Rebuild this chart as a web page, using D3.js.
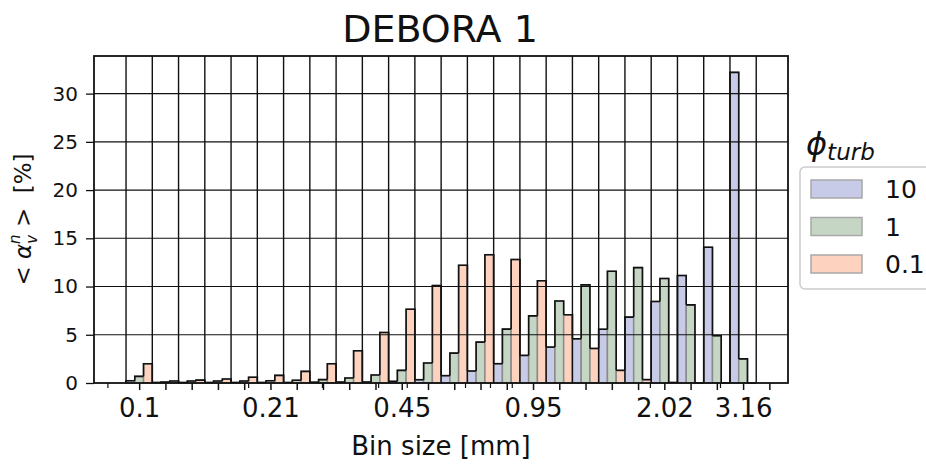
<!DOCTYPE html>
<html>
<head>
<meta charset="utf-8">
<style>
  body { margin: 0; background: #fff; }
  svg { font-family: "DejaVu Sans", sans-serif; }
</style>
</head>
<body>
<script src="https://cdn.jsdelivr.net/npm/d3@7"></script>
<script>
// bins are log spaced, only some of them carry a label
var binLabels = ["0.1", "", "", "", "", "0.21", "", "", "", "", "0.45", "", "", "", "", "0.95", "", "", "", "", "2.02", "", "", "3.16"];
var seriesNames = ["10", "1", "0.1"];
var phi10 = [0.24, 0.05, 0.05, 0.05, 0.05, 0.05, 0.05, 0.08, 0.1, 0.1, 0.17, 0.34, 0.76, 1.24, 2.0, 2.86, 3.72, 4.58, 5.58, 6.83, 8.45, 11.14, 14.07, 32.2];
var phi1 = [0.69, 0.1, 0.2, 0.2, 0.2, 0.24, 0.28, 0.35, 0.52, 0.83, 1.31, 2.07, 3.1, 4.24, 5.59, 6.96, 8.5, 10.17, 11.58, 11.96, 10.83, 8.1, 4.9, 2.5];
var phi01 = [2.0, 0.2, 0.3, 0.41, 0.6, 0.79, 1.2, 2.0, 3.34, 5.24, 7.65, 10.1, 12.2, 13.3, 12.8, 10.6, 7.07, 3.58, 1.31, 0.35, 0.05, 0, 0, 0];
var yTicks = [0, 5, 10, 15, 20, 25, 30];
// additional small ticks seen on the x axis (bin units)
var extraTicks = [-0.71, 4.65, 7.46, 9.6, 10.69, 12.91, 13.86, 14.69, 19.95, 22.62];

var colors = ["#c8cbe7", "#c6d6c5", "#fdd2bf"];
var series = [phi10, phi1, phi01];

var W = 926, H = 465;
var mLeft = 94, mRight = 788, mTop = 56, mBottom = 383;

var svg = d3.select("body").append("svg")
    .attr("width", W)
    .attr("height", H);

var nBins = binLabels.length;
var x = d3.scaleLinear().domain([-1.22, nBins + 1.21]).range([mLeft, mRight]);
var y = d3.scaleLinear().domain([0, 33.9]).range([mBottom, mTop]);

// flatten bars: bin k, series s -> [k + s/3, k + (s+1)/3]
var bars = [];
binLabels.forEach(function (lab, k) {
    series.forEach(function (vals, s) {
        bars.push({ x0: k + s / 3, x1: k + (s + 1) / 3, v: vals[k], s: s });
    });
});

var g = svg.append("g");

g.selectAll("rect.bar")
    .data(bars)
    .join("rect")
    .attr("class", "bar")
    .attr("x", function (d) { return x(d.x0); })
    .attr("width", function (d) { return x(d.x1) - x(d.x0); })
    .attr("y", function (d) { return y(d.v); })
    .attr("height", function (d) { return y(0) - y(d.v); })
    .attr("fill", function (d) { return colors[d.s]; })
    .attr("stroke", "#8a8a8a")
    .attr("stroke-width", 1.5);

// black outline: the part of each bar sticking out above its neighbours
g.selectAll("path.outline")
    .data(bars)
    .join("path")
    .attr("class", "outline")
    .attr("fill", "none")
    .attr("stroke", "#111")
    .attr("stroke-width", 1.6)
    .attr("d", function (d, i) {
        var prev = i > 0 ? bars[i - 1].v : 0;
        var next = i < bars.length - 1 ? bars[i + 1].v : 0;
        var a = Math.min(prev, d.v), b = Math.min(next, d.v);
        return "M" + x(d.x0) + "," + y(a) + "L" + x(d.x0) + "," + y(d.v) +
            "L" + x(d.x1) + "," + y(d.v) + "L" + x(d.x1) + "," + y(b);
    });

// grid on top of the bars
var grid = svg.append("g");
grid.selectAll("line.hg")
    .data(yTicks.slice(1))
    .join("line")
    .attr("class", "hg")
    .attr("x1", mLeft).attr("x2", mRight)
    .attr("y1", function (d) { return y(d); })
    .attr("y2", function (d) { return y(d); })
    .attr("stroke", "#111")
    .attr("stroke-width", 1.1);
grid.selectAll("line.vg")
    .data(d3.range(nBins + 1))
    .join("line")
    .attr("class", "vg")
    .attr("x1", function (d) { return x(d); })
    .attr("x2", function (d) { return x(d); })
    .attr("y1", mTop).attr("y2", mBottom)
    .attr("stroke", "#111")
    .attr("stroke-width", 1.4);

// axes
var xAxis = d3.axisBottom(x)
    .tickValues(d3.range(nBins + 1).map(function (k) { return k + 0.5; }))
    .tickFormat(function (d) { return binLabels[Math.floor(d)] || ""; })
    .tickSize(7)
    .tickPadding(9);
var gx = svg.append("g")
    .attr("transform", "translate(0," + mBottom + ")")
    .call(xAxis);
gx.select(".domain").remove();
gx.selectAll("line").attr("stroke", "#111").attr("stroke-width", 1.5);
gx.selectAll("text").attr("font-size", 26).attr("fill", "#111")
    .attr("font-family", "DejaVu Sans");

var gx2 = svg.append("g")
    .attr("transform", "translate(0," + mBottom + ")")
    .call(d3.axisBottom(x).tickValues(extraTicks).tickSize(5).tickFormat(""));
gx2.select(".domain").remove();
gx2.selectAll("line").attr("stroke", "#111").attr("stroke-width", 1.2);

var yAxis = d3.axisLeft(y).tickValues(yTicks).tickSize(8).tickPadding(8);
var gy = svg.append("g")
    .attr("transform", "translate(" + mLeft + ",0)")
    .call(yAxis);
gy.select(".domain").remove();
gy.selectAll("line").attr("stroke", "#111").attr("stroke-width", 1.3);
gy.selectAll("text").attr("font-size", 20).attr("fill", "#111")
    .attr("font-family", "DejaVu Sans");

// frame
svg.append("rect")
    .attr("x", mLeft).attr("y", mTop)
    .attr("width", mRight - mLeft).attr("height", mBottom - mTop)
    .attr("fill", "none").attr("stroke", "#111").attr("stroke-width", 1.8);

// title and labels
svg.append("text")
    .attr("x", (mLeft + mRight) / 2 - 1).attr("y", 42)
    .attr("text-anchor", "middle")
    .attr("font-size", 38)
    .attr("fill", "#111")
    .text("DEBORA 1");

svg.append("text")
    .attr("x", (mLeft + mRight) / 2).attr("y", 455)
    .attr("text-anchor", "middle")
    .attr("font-size", 26)
    .attr("fill", "#111")
    .text("Bin size [mm]");

var yl = svg.append("text")
    .attr("transform", "translate(31," + ((mTop + mBottom) / 2) + ") rotate(-90)")
    .attr("text-anchor", "middle")
    .attr("font-size", 23)
    .attr("fill", "#111")
    .style("white-space", "pre");
yl.append("tspan").text("< ");
yl.append("tspan").attr("font-style", "italic").text("α");
yl.append("tspan").attr("font-style", "italic").attr("font-size", 15).attr("dy", 6).text("v");
yl.append("tspan").attr("font-style", "italic").attr("font-size", 15).attr("dx", -9).attr("dy", -17).text("n");
yl.append("tspan").attr("dy", 11).text(" >  [%]");

// legend
var lg = svg.append("g");
var lt = lg.append("text")
    .attr("x", 806).attr("y", 155)
    .attr("fill", "#111");
lt.append("tspan").attr("font-size", 32).attr("font-style", "italic").text("ϕ");
lt.append("tspan").attr("font-size", 23).attr("font-style", "italic").attr("dy", 5).text("turb");

lg.append("rect")
    .attr("x", 800).attr("y", 167)
    .attr("width", 140).attr("height", 122)
    .attr("rx", 5)
    .attr("fill", "#fff")
    .attr("stroke", "#cccccc")
    .attr("stroke-width", 1.5);

var items = lg.selectAll("g.item")
    .data(seriesNames)
    .join("g")
    .attr("class", "item")
    .attr("transform", function (d, i) { return "translate(0," + (180 + i * 37.5) + ")"; });
items.append("rect")
    .attr("x", 811).attr("y", 0)
    .attr("width", 51).attr("height", 18)
    .attr("fill", function (d, i) { return colors[i]; })
    .attr("stroke", "#a8a8a8")
    .attr("stroke-width", 1.5);
items.append("text")
    .attr("x", 885).attr("y", 18)
    .attr("font-size", 25)
    .attr("fill", "#111")
    .text(function (d) { return d; });
</script>
</body>
</html>
